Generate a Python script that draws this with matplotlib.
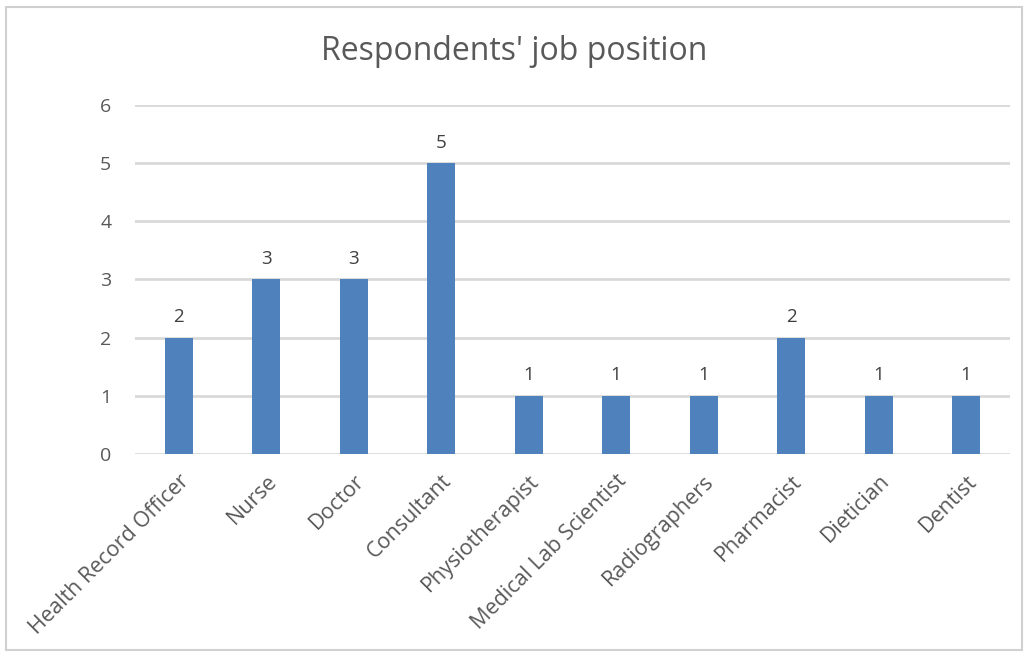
import matplotlib.pyplot as plt
from matplotlib.patches import Rectangle

jobs = ['Health Record Officer', 'Nurse', 'Doctor', 'Consultant', 'Physiotherapist',
        'Medical Lab Scientist', 'Radiographers', 'Pharmacist', 'Dietician', 'Dentist']
counts = [2, 3, 3, 5, 1, 1, 1, 2, 1, 1]

plt.rcParams['font.family'] = ['Open Sans', 'DejaVu Sans']
text_col = '#595959'

fig = plt.figure(figsize=(10.28, 6.55), dpi=100)
ax = fig.add_axes([0.1313, 0.3069, 0.851, 0.5328])

x = list(range(len(jobs)))
bars = ax.bar(x, counts, width=0.32, color='#4f81bd', zorder=3)
for xi, v in zip(x, counts):
    ax.text(xi, v + 0.2, str(v), ha='center', va='bottom', fontsize=13.5, color='#404040')

ax.set_xlim(-0.5, len(jobs) - 0.5)
ax.set_ylim(0, 6)
ax.set_yticks(range(0, 7))
ax.grid(axis='y', color='#d9d9d9', linewidth=2, zorder=0)
for s in ax.spines.values():
    s.set_visible(False)
ax.tick_params(length=0, colors=text_col)
ax.tick_params(axis='y', pad=17, labelsize=14)
ax.tick_params(axis='x', pad=12, labelsize=15.5)
ax.set_xticks(x)
ax.set_xticklabels(jobs, rotation=45, ha='right', rotation_mode='anchor')

fig.text(0.5, 0.921, "Respondents' job position", ha='center', va='center',
         fontsize=23, color=text_col)

fig.patches.append(Rectangle((0.006, 0.008), 0.988, 0.982, transform=fig.transFigure,
                             fill=False, edgecolor='#d0d0d0', linewidth=1.5))

fig.savefig('out.png', dpi=100)
